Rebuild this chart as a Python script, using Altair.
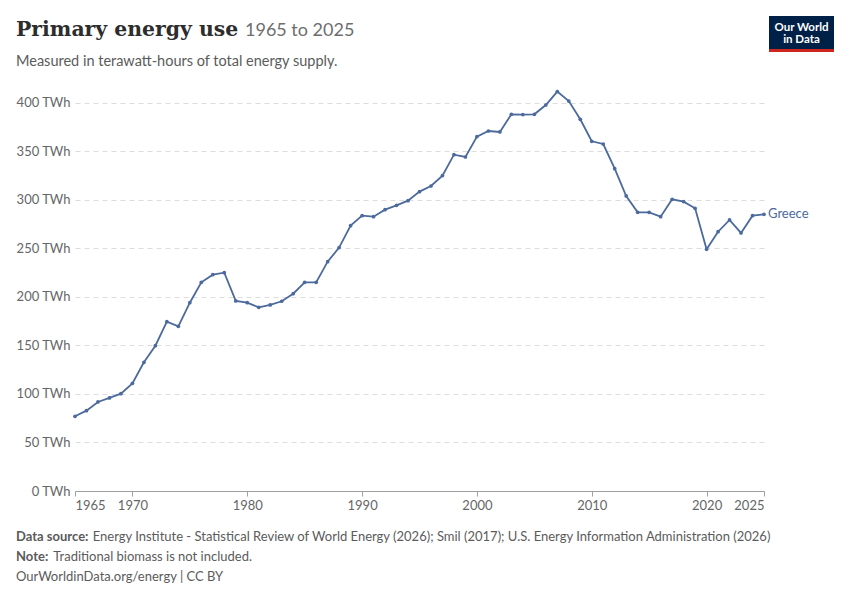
import altair as alt
import pandas as pd

years = list(range(1965, 2026))
energy_twh = [
    77.0, 82.8, 91.8, 95.9, 100.3, 111.0, 132.7, 149.8, 174.5, 169.8,
    194.1, 215.1, 223.0, 225.0, 195.9, 194.1, 189.4, 191.8, 195.6, 203.4,
    215.1, 215.1, 236.4, 250.9, 273.5, 283.8, 282.8, 290.0, 294.5, 299.3,
    308.6, 314.4, 325.1, 346.7, 344.3, 365.3, 371.1, 370.1, 388.3, 388.0,
    388.3, 397.9, 411.7, 402.0, 383.2, 360.5, 357.7, 332.3, 304.1, 287.3,
    287.3, 282.8, 300.7, 298.3, 291.4, 249.2, 267.3, 279.4, 266.0, 283.8,
    285.2,
]
country = "Greece"
x_ticks = [1965, 1970, 1980, 1990, 2000, 2010, 2020, 2025]
y_ticks = [0, 50, 100, 150, 200, 250, 300, 350, 400]

title_text = "Primary energy use"
title_years = "1965 to 2025"
subtitle_text = "Measured in terawatt-hours of total energy supply."
source_label = "Data source:"
source_text = ("Energy Institute - Statistical Review of World Energy (2026); Smil (2017); "
               "U.S. Energy Information Administration (2026)")
note_label = "Note:"
note_text = "Traditional biomass is not included."
url_text = "OurWorldinData.org/energy | CC BY"

LINE = "#4c6a9c"
GREY = "#5b5b5b"
FONT = "Lato"

df = pd.DataFrame({"year": years, "value": energy_twh, "entity": country})
last = df.tail(1)

x_enc = alt.X("year:Q",
              scale=alt.Scale(domain=[1965, 2025], nice=False, zero=False),
              axis=alt.Axis(values=x_ticks, format="d", title=None, grid=False,
                            labelFlush=True, labelFont=FONT, labelFontSize=13,
                            labelColor="#666666", domainColor="#a0a0a0",
                            tickColor="#a0a0a0", tickSize=5, labelPadding=3,
                            labelOverlap=False))
y_enc = alt.Y("value:Q",
              scale=alt.Scale(domain=[0, 411.3], nice=False),
              axis=alt.Axis(values=y_ticks, title=None, domain=False, ticks=False,
                            labelExpr="datum.value + ' TWh'", labelFont=FONT,
                            labelFontSize=13, labelColor="#666666", labelPadding=5,
                            gridColor="#dddddd", gridDash=[5, 4], gridWidth=1))

line = alt.Chart(df).mark_line(color=LINE, strokeWidth=1.8).encode(x=x_enc, y=y_enc)
pts = alt.Chart(df).mark_point(filled=True, color=LINE, size=14, opacity=1).encode(x="year:Q", y="value:Q")
lbl = alt.Chart(last).mark_text(align="left", baseline="middle", dx=4, font=FONT,
                                fontSize=13, color=LINE).encode(x="year:Q", y="value:Q", text="entity:N")

one = pd.DataFrame({"k": [0]})


def txt(s, x, y, size=13, color=GREY, weight="normal", font=FONT, align="left"):
    return alt.Chart(one).mark_text(text=s, align=align, baseline="alphabetic", font=font,
                                    fontSize=size, color=color, fontWeight=weight).encode(
        x=alt.value(x), y=alt.value(y))


title = txt(title_text, -59, -56, size=20.4, color="#2d2d2d", weight="bold", font="DejaVu Serif")
title2 = txt(title_years, 170, -56, size=18, color="#6e6e6e")
subtitle = txt(subtitle_text, -59, -26, size=14.5, color=GREY)
src1 = txt(source_label, -59, 449, weight="bold")
src2 = txt(source_text, 17.7, 449)
note1 = txt(note_label, -59, 469, weight="bold")
note2 = txt(note_text, -21.7, 469)
url = txt(url_text, -59, 489)

logo_box = alt.Chart(one).mark_rect(color="#002147").encode(
    x=alt.value(694), x2=alt.value(759), y=alt.value(-76), y2=alt.value(-43))
logo_red = alt.Chart(one).mark_rect(color="#ce261e").encode(
    x=alt.value(694), x2=alt.value(759), y=alt.value(-43), y2=alt.value(-40))
logo1 = txt("Our World", 726.5, -61.5, size=11.5, color="white", weight="bold", align="center")
logo2 = txt("in Data", 726.5, -49, size=11.5, color="white", weight="bold", align="center")

chart = alt.layer(line, pts, lbl, title, title2, subtitle, src1, src2, note1, note2, url,
                  logo_box, logo_red, logo1, logo2).properties(
    width=689, height=399,
    background="white",
    autosize=alt.AutoSizeParams(type="none"),
    padding={"left": 67, "top": 84, "right": 78, "bottom": 101},
).configure_view(strokeWidth=0, stroke="transparent")

chart.save("out.html", embed_options={"renderer": "svg", "actions": False})
